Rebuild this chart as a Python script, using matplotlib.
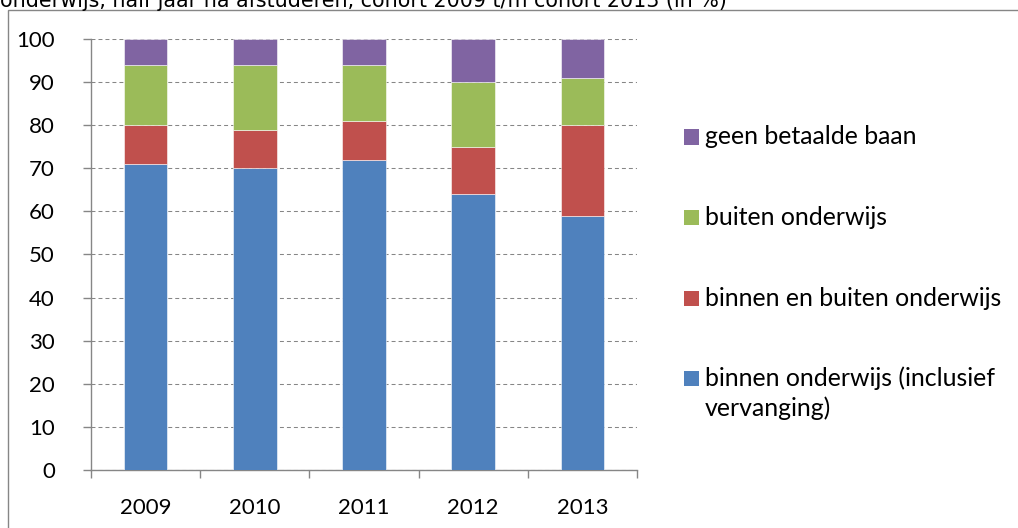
import matplotlib
matplotlib.use("Agg")
import matplotlib.pyplot as plt
from matplotlib.patches import Rectangle
from matplotlib.ticker import FixedLocator, NullFormatter
import numpy as np

years = ["2009", "2010", "2011", "2012", "2013"]
binnen = [71, 70, 72, 64, 59]
binnen_buiten = [9, 9, 9, 11, 21]
buiten = [14, 15, 13, 15, 11]
geen = [6, 6, 6, 10, 9]

series = [
    ("binnen onderwijs (inclusief\nvervanging)", binnen, "#4F81BD"),
    ("binnen en buiten onderwijs", binnen_buiten, "#C0504D"),
    ("buiten onderwijs", buiten, "#9BBB59"),
    ("geen betaalde baan", geen, "#8064A2"),
]
title = "onderwijs, half jaar na afstuderen, cohort 2009 t/m cohort 2013 (in %)"

W, H = 1018, 528
fig = plt.figure(figsize=(W / 100, H / 100), dpi=100)
fig.patch.set_facecolor("white")

ax = fig.add_axes([91 / W, 58 / H, (637 - 91) / W, (470 - 39) / H])

x = np.arange(len(years))
bottom = np.zeros(len(years))
for label, vals, color in series:
    ax.bar(x, vals, width=0.40, bottom=bottom, color=color,
           edgecolor=(1, 1, 1, 0.55), linewidth=0.7, zorder=3)
    bottom += np.array(vals)

ax.set_xlim(-0.5, len(years) - 0.5)
ax.set_ylim(0, 100)
ax.set_yticks(np.arange(0, 101, 10))
ax.yaxis.grid(True, color="#868686", linestyle=(0, (3.8, 2.9)), linewidth=0.75, zorder=1)
ax.set_axisbelow(True)

ax.xaxis.set_major_locator(FixedLocator(np.arange(-0.5, len(years), 1.0)))
ax.xaxis.set_major_formatter(NullFormatter())
ax.xaxis.set_minor_locator(FixedLocator(x))
ax.set_xticks(x, years, minor=True)

for s in ["top", "right"]:
    ax.spines[s].set_visible(False)
for s in ["left", "bottom"]:
    ax.spines[s].set_color("#868686")
    ax.spines[s].set_linewidth(1.0)

ax.tick_params(axis="y", which="major", length=6, width=1, color="#868686",
               pad=20, labelsize=16, labelcolor="black")
ax.tick_params(axis="x", which="major", length=6, width=1, color="#868686")
ax.tick_params(axis="x", which="minor", length=0, pad=20, labelsize=16, labelcolor="black")
for lab in ax.get_yticklabels() + ax.get_xticklabels(minor=True):
    lab.set_family("Lato")

# legend (drawn manually, top entry = last series)
sq = 15
leg_x = 684
line_h = 30
for i, (label, vals, color) in enumerate(series[::-1]):
    yb = 144.5 + 80.5 * i  # square bottom / first-line baseline, pixels from top
    fig.patches.append(Rectangle((leg_x / W, 1 - yb / H), sq / W, sq / H,
                                 transform=fig.transFigure, facecolor=color,
                                 edgecolor="none"))
    for k, line in enumerate(label.split("\n")):
        fig.text((leg_x + sq + 6) / W, 1 - (yb + k * line_h) / H, line,
                 family="Lato", fontsize=17.9, va="baseline", ha="left", color="black")

fig.text(0, 1 - 7 / H, title, family="DejaVu Sans", fontsize=14.9,
         va="baseline", ha="left", color="black")

fig.patches.append(Rectangle((7.5 / W, -0.1), 1.2, 1 - 9.5 / H + 0.1,
                             transform=fig.transFigure, fill=False,
                             edgecolor="#868686", linewidth=1.0))

fig.savefig("out.png", dpi=100)
